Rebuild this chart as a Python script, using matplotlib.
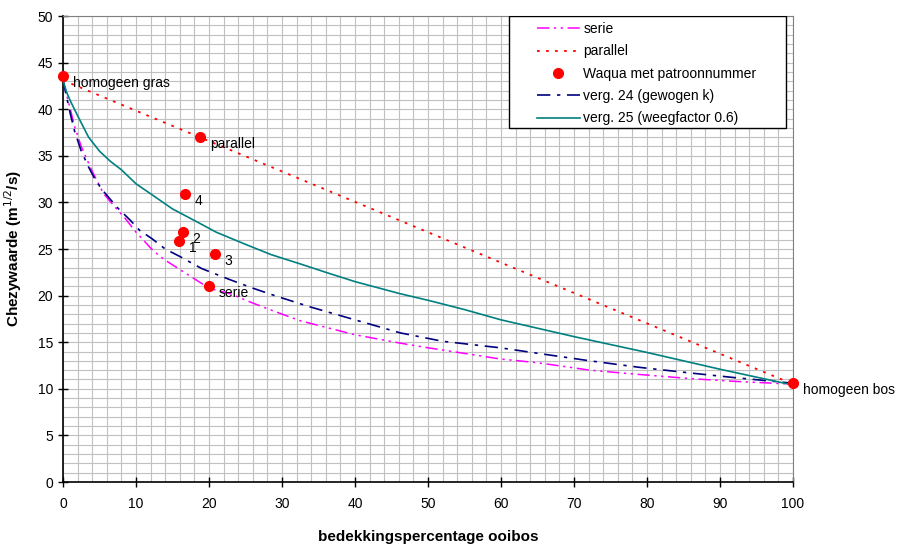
import matplotlib
matplotlib.use('Agg')
import matplotlib.pyplot as plt
from matplotlib.patches import Rectangle
from matplotlib.ticker import MultipleLocator

plt.rcParams['font.family'] = ['Liberation Sans', 'DejaVu Sans']

# serie (magenta)
x_serie = [0, 1, 1.6, 2.5, 3.9, 5.5, 7, 8.5, 10, 11.2, 12, 13, 14, 16, 18, 20, 22.9, 26, 29,
           32.5, 36, 40, 46.2, 50, 55, 59.9, 65, 72.2, 78, 85.9, 92, 100]
c_serie = [43.1, 40.0, 38.1, 36.0, 33.5, 31.0, 29.6, 28.3, 26.8, 25.8, 25.1, 24.4, 23.8, 22.8,
           21.8, 20.8, 20.2, 19.2, 18.3, 17.3, 16.6, 15.8, 14.9, 14.4, 13.8, 13.2, 12.8, 12.0,
           11.6, 11.1, 10.8, 10.5]

# parallel (rood)
x_par = [0, 100]
c_par = [43.1, 10.5]

# verg. 24 (gewogen k)
x_v24 = [0, 1, 1.6, 2.5, 3.5, 4.5, 5.75, 7.5, 9.2, 10.5, 12.2, 14, 16, 19, 22.9, 26, 29, 33.8,
         40, 46.2, 52, 59.9, 66, 72.2, 79, 85.9, 92, 100]
c_v24 = [43.1, 39.5, 37.6, 35.5, 33.8, 32.3, 31.0, 29.4, 28.1, 27.0, 26.1, 25.0, 24.2, 22.9,
         21.7, 20.8, 20.0, 18.8, 17.4, 16.0, 15.1, 14.4, 13.7, 13.0, 12.3, 11.7, 11.2, 10.6]

# verg. 25 (weegfactor 0.6)
x_v25 = [0, 0.5, 1, 2, 3.5, 5, 6.5, 8, 10, 12.6, 15, 17.9, 21, 25, 28.5, 32.5, 36, 40, 46.2,
         50, 55, 60, 70, 80, 90, 100]
c_v25 = [43.1, 41.8, 40.9, 39.3, 37.0, 35.5, 34.4, 33.5, 32.0, 30.6, 29.3, 28.1, 26.8, 25.5,
         24.4, 23.4, 22.5, 21.5, 20.2, 19.5, 18.5, 17.4, 15.6, 13.9, 12.1, 10.4]

# Waqua punten
labels_pt = ['homogeen gras', 'parallel', '4', '2', '1', '3', 'serie', 'homogeen bos']
x_pt = [0, 18.8, 16.7, 16.4, 15.9, 20.8, 20.0, 100]
c_pt = [43.6, 37.0, 30.9, 26.8, 25.9, 24.5, 21.0, 10.6]

fig = plt.figure(figsize=(9.08, 5.5), dpi=100)
ax = fig.add_axes([0.0694, 0.1236, 0.8040, 0.8473])

ax.plot(x_serie, c_serie, color='#ff00ff', lw=1.1, linestyle=(0, (8, 3, 1.5, 3, 1.5, 3)),
        label='serie', zorder=3)
ax.plot(x_par, c_par, color='#ff0000', lw=1.3, linestyle=(0, (1.5, 3.5)),
        label='parallel', zorder=3)
ax.plot(x_pt, c_pt, linestyle='none', marker='o', ms=7, color='#ff0000',
        label='Waqua met patroonnummer', zorder=5, clip_on=False)
ax.plot(x_v24, c_v24, color='#000080', lw=1.2, linestyle=(0, (8, 4, 2, 4)),
        label='verg. 24 (gewogen k)', zorder=3)
ax.plot(x_v25, c_v25, color='#008080', lw=1.2, label='verg. 25 (weegfactor 0.6)', zorder=3)

for lab, xx, yy in zip(labels_pt, x_pt, c_pt):
    ax.annotate(lab, (xx, yy), xytext=(7, -5), textcoords='offset points',
                fontsize=10, va='center', ha='left', annotation_clip=False, zorder=6)

ax.set_xlim(0, 100)
ax.set_ylim(0, 50)
ax.xaxis.set_major_locator(MultipleLocator(10))
ax.yaxis.set_major_locator(MultipleLocator(5))
ax.xaxis.set_minor_locator(MultipleLocator(2))
ax.yaxis.set_minor_locator(MultipleLocator(1))
ax.grid(which='both', color='#c0c0c0', lw=0.8)
ax.set_axisbelow(True)

ax.tick_params(which='major', direction='inout', length=7, width=1, labelsize=10)
ax.tick_params(axis='x', pad=7)
ax.tick_params(which='minor', length=0)
for s in ['top', 'right']:
    ax.spines[s].set_color('#808080')
for s in ['left', 'bottom']:
    ax.spines[s].set_linewidth(1.2)

ax.set_xlabel('bedekkingspercentage ooibos', fontsize=11, fontweight='bold', labelpad=14)
ax.set_ylabel('Chezywaarde (m$^{1/2}$/s)', fontsize=11, fontweight='bold', labelpad=10)

# legend box (Excel-style, wide padding)
box = Rectangle((0.611, 0.760), 0.379, 0.240, transform=ax.transAxes, facecolor='white',
                edgecolor='black', lw=1.0, zorder=7)
ax.add_patch(box)
leg = ax.legend(loc='upper left', bbox_to_anchor=(0.649, 0.987), borderaxespad=0, fontsize=10,
                frameon=False, borderpad=0, labelspacing=0.6, handlelength=3.1,
                handletextpad=0.25)
leg.set_zorder(8)

fig.savefig('out.png', dpi=100)
